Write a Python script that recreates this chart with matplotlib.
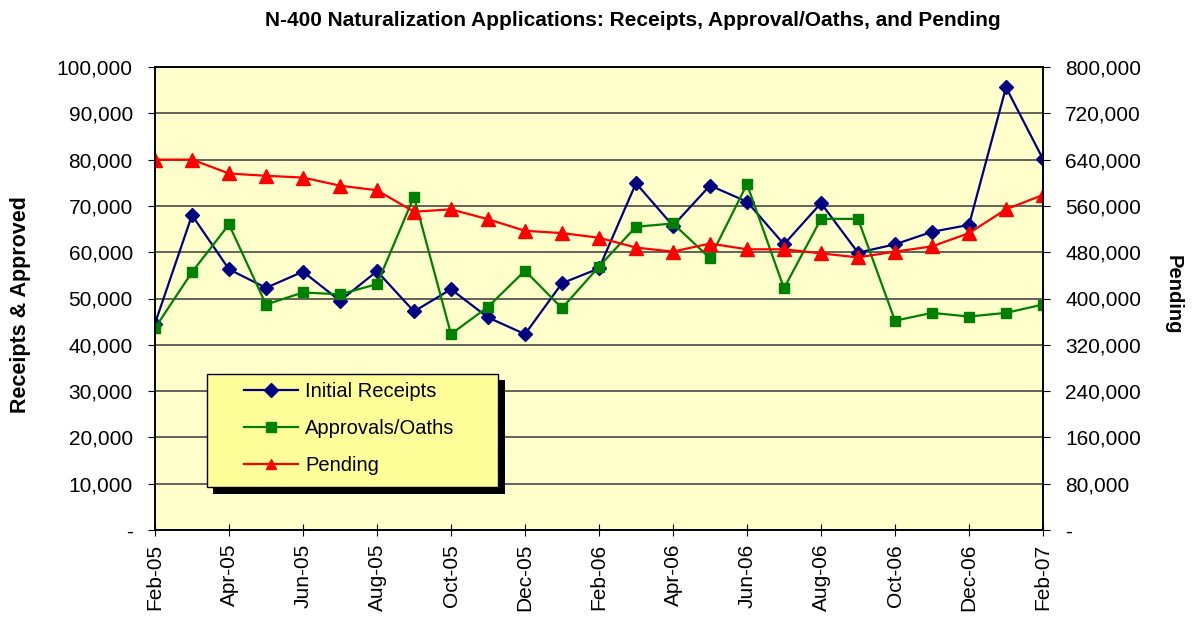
import matplotlib.pyplot as plt
from matplotlib.patches import Rectangle
from matplotlib.ticker import FuncFormatter

plt.rcParams['font.family'] = ['Liberation Sans', 'DejaVu Sans']

# data
months = ['Feb-05', 'Mar-05', 'Apr-05', 'May-05', 'Jun-05', 'Jul-05', 'Aug-05',
          'Sep-05', 'Oct-05', 'Nov-05', 'Dec-05', 'Jan-06', 'Feb-06', 'Mar-06',
          'Apr-06', 'May-06', 'Jun-06', 'Jul-06', 'Aug-06', 'Sep-06', 'Oct-06',
          'Nov-06', 'Dec-06', 'Jan-07', 'Feb-07']
receipts = [44600, 68000, 56300, 52300, 55800, 49500, 55900, 47200, 52000,
            45900, 42300, 53300, 56500, 74900, 65700, 74400, 70900, 61700,
            70600, 59900, 61700, 64400, 65900, 95600, 80100]
approvals = [43600, 55700, 66000, 48700, 51300, 50900, 53100, 72000, 42300,
             48200, 56000, 47900, 56900, 65500, 66200, 58700, 74700, 52200,
             67200, 67200, 45200, 46900, 46100, 46900, 48700]
pending = [640000, 640000, 616000, 612000, 609000, 595000, 587000, 550000,
           554000, 537000, 517000, 513000, 505000, 488000, 481000, 495000,
           485000, 485000, 478000, 471000, 481000, 490000, 513000, 554000,
           579000]

x = list(range(len(months)))
W, H = 1194, 618

fig = plt.figure(figsize=(11.94, 6.18), dpi=100)
ax = fig.add_axes([155 / W, 1 - 530 / H, 888 / W, 463 / H])
ax.set_facecolor('#FFFFCC')
ax2 = ax.twinx()

l1, = ax.plot(x, receipts, color='#000080', marker='D', markersize=7.5, lw=1.6,
              label='Initial Receipts')
l2, = ax.plot(x, approvals, color='#008000', marker='s', markersize=7.5, lw=1.6,
              label='Approvals/Oaths')
l3, = ax2.plot(x, pending, color='#FF0000', marker='^', markersize=9.5, lw=1.6,
               label='Pending')

ax.set_xlim(0, len(months) - 1)
ax.set_ylim(0, 100000)
ax2.set_ylim(0, 800000)
ax.set_yticks(range(0, 100001, 10000))
ax2.set_yticks(range(0, 800001, 80000))

fmt = FuncFormatter(lambda v, p: '-' if v == 0 else f'{int(v):,}')
ax.yaxis.set_major_formatter(fmt)
ax2.yaxis.set_major_formatter(fmt)

ax.set_xticks(x[::2])
ax.set_xticklabels(months[::2], rotation=90, fontsize=15)
ax.tick_params(axis='y', labelsize=15, direction='out', length=5, pad=11)
ax2.tick_params(axis='y', labelsize=15, direction='out', length=5, pad=11)
ax.tick_params(axis='x', direction='inout', length=8, pad=6)

ax.grid(axis='y', color='#383838', lw=1.1)
for a in (ax, ax2):
    for s in a.spines.values():
        s.set_color('black')
        s.set_linewidth(1.2)

ax.set_ylabel('Receipts & Approved', fontsize=15.5, fontweight='bold', va='center')
ax.yaxis.set_label_coords(-0.151, 0.486)
ax2.set_ylabel('Pending', fontsize=14.5, fontweight='bold', rotation=270, va='center')
ax2.yaxis.set_label_coords(1.146, 0.508)
fig.text(0.53, 1 - 20 / H,
         'N-400 Naturalization Applications: Receipts, Approval/Oaths, and Pending',
         ha='center', va='center', fontsize=15, fontweight='bold')

# legend box with its hard shadow
ax2.add_patch(Rectangle((213 / W, 1 - 494 / H), 292 / W, 114 / H,
                        transform=fig.transFigure, facecolor='black',
                        edgecolor='none', zorder=4, clip_on=False))
ax2.add_patch(Rectangle((207 / W, 1 - 487 / H), 291 / W, 113 / H,
                        transform=fig.transFigure, facecolor='#FFFF99',
                        edgecolor='black', lw=1, zorder=4.1, clip_on=False))
leg = ax2.legend(handles=[l1, l2, l3], loc='upper left',
                 bbox_to_anchor=(244 / W, 1 - 382 / H),
                 bbox_transform=fig.transFigure, fontsize=14.5,
                 frameon=False, borderpad=0, borderaxespad=0,
                 handlelength=2.7, labelspacing=0.9, handletextpad=0.35)
for h in leg.legend_handles:
    h.set_markersize(7.5)

fig.savefig('out.png', dpi=100)
